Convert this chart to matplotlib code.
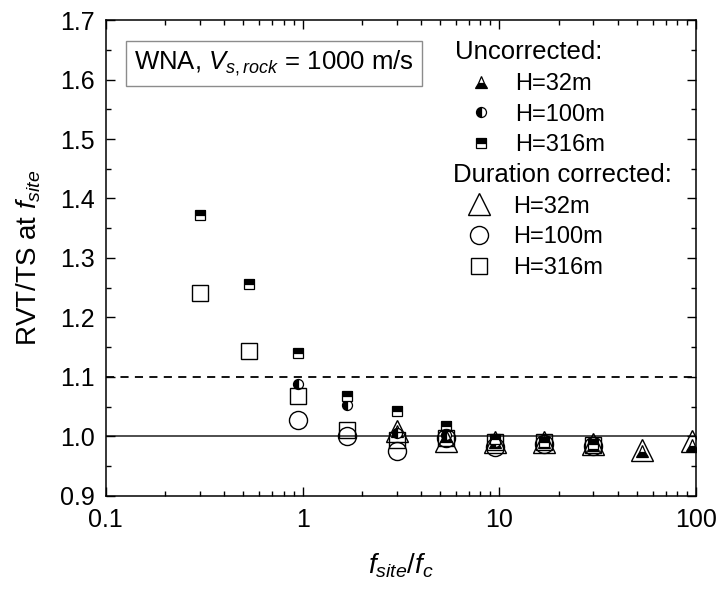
import numpy as np
import matplotlib
matplotlib.use('Agg')
import matplotlib.pyplot as plt
from matplotlib.ticker import MultipleLocator, LogLocator, NullFormatter, FixedFormatter, FixedLocator

plt.rcParams['font.family'] = ['Liberation Sans', 'DejaVu Sans']
plt.rcParams['mathtext.fontset'] = 'custom'
plt.rcParams['mathtext.rm'] = 'Liberation Sans'
plt.rcParams['mathtext.it'] = 'Liberation Sans:italic'

# ── data: f_site/f_c and RVT/TS ratio at f_site ─────────────────────────────
x_316 = [0.3, 0.533, 0.95, 1.69, 3.0, 5.33, 9.49, 16.9, 30.0]
x_100 = [0.95, 1.69, 3.0, 5.33, 9.49, 16.9, 30.0]
x_32 = [3.0, 5.33, 9.49, 16.9, 30.0, 53.3, 94.9]

unc_316 = [1.373, 1.257, 1.141, 1.068, 1.042, 1.017, 0.995, 0.99, 0.987]
unc_100 = [1.088, 1.053, 1.005, 1.003, 0.99, 0.99, 0.986]
unc_32 = [1.01, 1.0, 0.99, 0.99, 0.985, 0.975, 0.986]

cor_316 = [1.241, 1.143, 1.068, 1.011, 0.994, 0.998, 0.99, 0.99, 0.985]
cor_100 = [1.027, 1.0, 0.975, 0.998, 0.983, 0.987, 0.984]
cor_32 = [1.01, 0.993, 0.99, 0.99, 0.987, 0.977, 0.993]

labels = ['H=32m', 'H=100m', 'H=316m']

fig = plt.figure(figsize=(7.2, 5.89), dpi=100)
ax = fig.add_axes([0.147, 0.158, 0.820, 0.808])

ax.axhline(1.0, color='0.25', lw=1.3, zorder=1)
ax.axhline(1.1, color='k', lw=1.3, ls=(0, (4.5, 3.5)), zorder=1)

small = dict(ls='none', color='k', mec='k', mfc='k', markerfacecoloralt='white', mew=0.9, zorder=3)
big = dict(ls='none', color='k', mec='k', mfc='none', mew=1.0, zorder=4)

# uncorrected (half-filled)
h_u32, = ax.plot(x_32, unc_32, marker='^', ms=8, fillstyle='bottom', **small)
h_u100, = ax.plot(x_100, unc_100, marker='o', ms=7.2, fillstyle='left', **small)
h_u316, = ax.plot(x_316, unc_316, marker='s', ms=7.4, fillstyle='top', **small)
# duration corrected (open)
h_c32, = ax.plot(x_32, cor_32, marker='^', ms=15.5, **big)
h_c100, = ax.plot(x_100, cor_100, marker='o', ms=13, **big)
h_c316, = ax.plot(x_316, cor_316, marker='s', ms=12, **big)

ax.set_xscale('log')
ax.set_xlim(0.1, 100)
ax.set_ylim(0.9, 1.7)
ax.xaxis.set_major_locator(FixedLocator([0.1, 1, 10, 100]))
ax.xaxis.set_major_formatter(FixedFormatter(['0.1', '1', '10', '100']))
ax.xaxis.set_minor_locator(LogLocator(base=10, subs=np.arange(2, 10)))
ax.xaxis.set_minor_formatter(NullFormatter())
ax.yaxis.set_major_locator(MultipleLocator(0.1))
ax.yaxis.set_minor_locator(MultipleLocator(0.05))
ax.yaxis.set_major_formatter(matplotlib.ticker.FormatStrFormatter('%.1f'))

ax.tick_params(which='both', direction='in', top=True, right=True, width=1.0)
ax.tick_params(which='major', length=6.5, labelsize=18, pad=8)
ax.tick_params(which='minor', length=3.6)
ax.tick_params(axis='x', which='major', pad=9)
for s in ax.spines.values():
    s.set_linewidth(1.1)

ax.set_ylabel('RVT/TS at $\\mathit{f}_{site}$', fontsize=20, labelpad=12)
ax.set_xlabel('$\\mathit{f}_{site}$/$\\mathit{f}_c$', fontsize=20, labelpad=14)

ax.text(0.048, 0.9085, 'WNA, $\\mathit{V}_{s,rock}$ = 1000 m/s', transform=ax.transAxes,
        fontsize=18.5, va='center', ha='left',
        bbox=dict(boxstyle='square,pad=0.3', fc='white', ec='0.55', lw=1.0))

leg_kw = dict(frameon=False, loc='upper left', fontsize=17, title_fontsize=18.5,
              alignment='left', borderpad=0, handlelength=2.2, handletextpad=0.35,
              labelspacing=0.37, borderaxespad=0)
leg1 = ax.legend([h_u32, h_u100, h_u316], labels, title='Uncorrected:',
                 bbox_to_anchor=(0.5915, 0.9575), **leg_kw)
ax.add_artist(leg1)
leg2 = ax.legend([h_c32, h_c100, h_c316], labels, title='Duration corrected:',
                 bbox_to_anchor=(0.588, 0.6996), **leg_kw)

fig.savefig('out.png', dpi=100)
